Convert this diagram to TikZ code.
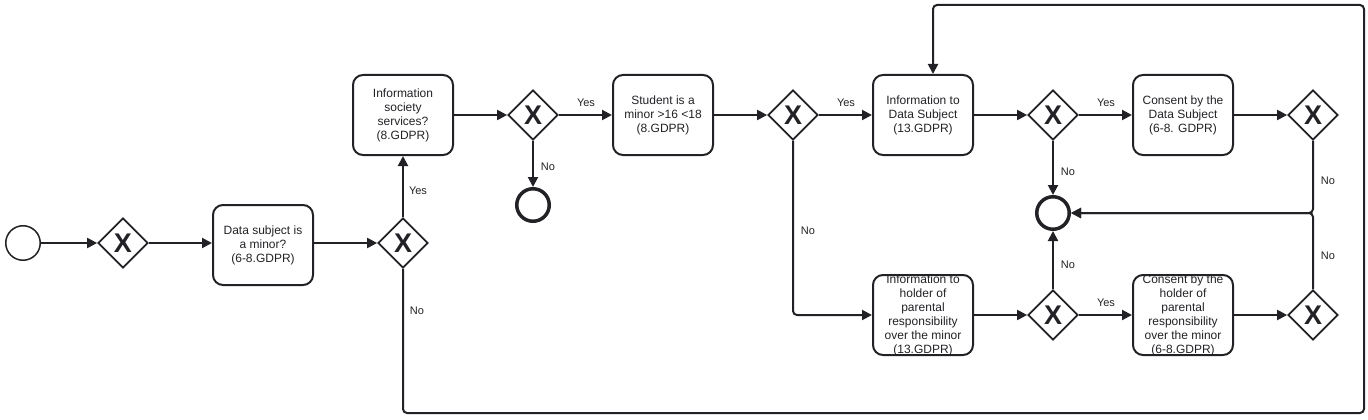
\documentclass[tikz,border=0pt]{standalone}
\usepackage{fontspec}
\setmainfont{Liberation Sans}
\usetikzlibrary{shapes.geometric,arrows.meta}
\definecolor{ink}{RGB}{34,34,38}
\newcommand{\tasktext}[1]{\smash{\raisebox{-3pt}{\parbox[c]{98pt}{\centering\fontsize{12}{14}\selectfont #1}}}}
\tikzset{
  task/.style={draw=ink, line width=2pt, rounded corners=10pt, minimum width=100pt, minimum height=80pt, inner sep=0pt, text=ink},
  gate/.style={draw=ink, line width=1.7pt, diamond, minimum width=50pt, minimum height=50pt, inner sep=0pt, font=\fontsize{27}{27}\selectfont\bfseries, text=ink},
  startev/.style={circle, draw=ink, line width=1.5pt, minimum size=34.5pt, inner sep=0pt},
  endev/.style={circle, draw=ink, line width=3.5pt, minimum size=32.5pt, inner sep=0pt},
  flow/.style={draw=ink, line width=2pt, -{Triangle[length=10pt,width=10pt]}, rounded corners=4pt},
  lbl/.style={font=\fontsize{11}{12}\selectfont, text=ink}
}
\begin{document}
\begin{tikzpicture}[x=1pt,y=-1pt]
\useasboundingbox (0,0) rectangle (1368,420);
% events
\node[startev] (S) at (23,243) {};
\node[endev] (E1) at (533,205) {};
\node[endev] (E2) at (1053,213) {};
% gateways
\node[gate] (G1) at (123,243) {X};
\node[gate] (G2) at (403,243) {X};
\node[gate] (G3) at (533,115) {X};
\node[gate] (G4) at (793,115) {X};
\node[gate] (G5) at (1053,115) {X};
\node[gate] (G6) at (1313,115) {X};
\node[gate] (G7) at (1053,315) {X};
\node[gate] (G8) at (1313,315) {X};
% tasks
\node[task] (T1) at (263,245) {\tasktext{Data subject is\\a minor?\\(6-8.GDPR)}};
\node[task] (T2) at (403,115) {\tasktext{Information\\society\\services?\\(8.GDPR)}};
\node[task] (T3) at (663,115) {\tasktext{Student is a\\minor >16 <18\\(8.GDPR)}};
\node[task] (T4) at (923,115) {\tasktext{Information to\\Data Subject\\(13.GDPR)}};
\node[task] (T5) at (1183,115) {\tasktext{Consent by the\\Data Subject\\(6-8. GDPR)}};
\node[task] (T6) at (923,315) {\tasktext{Information to\\holder of\\parental\\responsibility\\over the minor\\(13.GDPR)}};
\node[task] (T7) at (1183,315) {\tasktext{Consent by the\\holder of\\parental\\responsibility\\over the minor\\(6-8.GDPR)}};
% loop coordinates
\coordinate (c1) at (403,413);
\coordinate (c2) at (1364,413);
\coordinate (c3) at (1364,5);
\coordinate (c4) at (933,5);
% flows
\draw[flow] (S) -- (G1.west);
\draw[flow] (G1.east) -- (T1.west |- G1.east);
\draw[flow] (T1.east |- G2.west) -- (G2.west);
\draw[flow] (G2.north) -- (T2.south);
\draw[flow] (G2.south) -- (c1) -- (c2) -- (c3) -- (c4) -- ([xshift=10pt]T4.north);
\draw[flow] (T2.east) -- (G3.west);
\draw[flow] (G3.east) -- (T3.west);
\draw[flow] (G3.south) -- (E1.north);
\draw[flow] (T3.east) -- (G4.west);
\draw[flow] (G4.east) -- (T4.west);
\draw[flow] (G4.south) |- (T6.west);
\draw[flow] (T4.east) -- (G5.west);
\draw[flow] (G5.east) -- (T5.west);
\draw[flow] (G5.south) -- (E2.north);
\draw[flow] (T5.east) -- (G6.west);
\draw[flow] (G6.south) |- (E2.east);
\draw[flow] (T6.east) -- (G7.west);
\draw[flow] (G7.east) -- (T7.west);
\draw[flow] (G7.north) -- (E2.south);
\draw[flow] (T7.east) -- (G8.west);
\draw[flow] (G8.north) |- (E2.east);
% labels
\node[lbl] (l1) at (418,191) {Yes};
\node[lbl] (l2) at (417,311) {No};
\node[lbl] (l3) at (586,103) {Yes};
\node[lbl] (l4) at (548,167) {No};
\node[lbl] (l5) at (846,103) {Yes};
\node[lbl] (l6) at (808,231) {No};
\node[lbl] (l7) at (1106,103) {Yes};
\node[lbl] (l8) at (1068,172) {No};
\node[lbl] (l9) at (1328,181) {No};
\node[lbl] (l10) at (1068,265) {No};
\node[lbl] (l11) at (1106,303) {Yes};
\node[lbl] (l12) at (1328,256) {No};
\end{tikzpicture}
\end{document}
